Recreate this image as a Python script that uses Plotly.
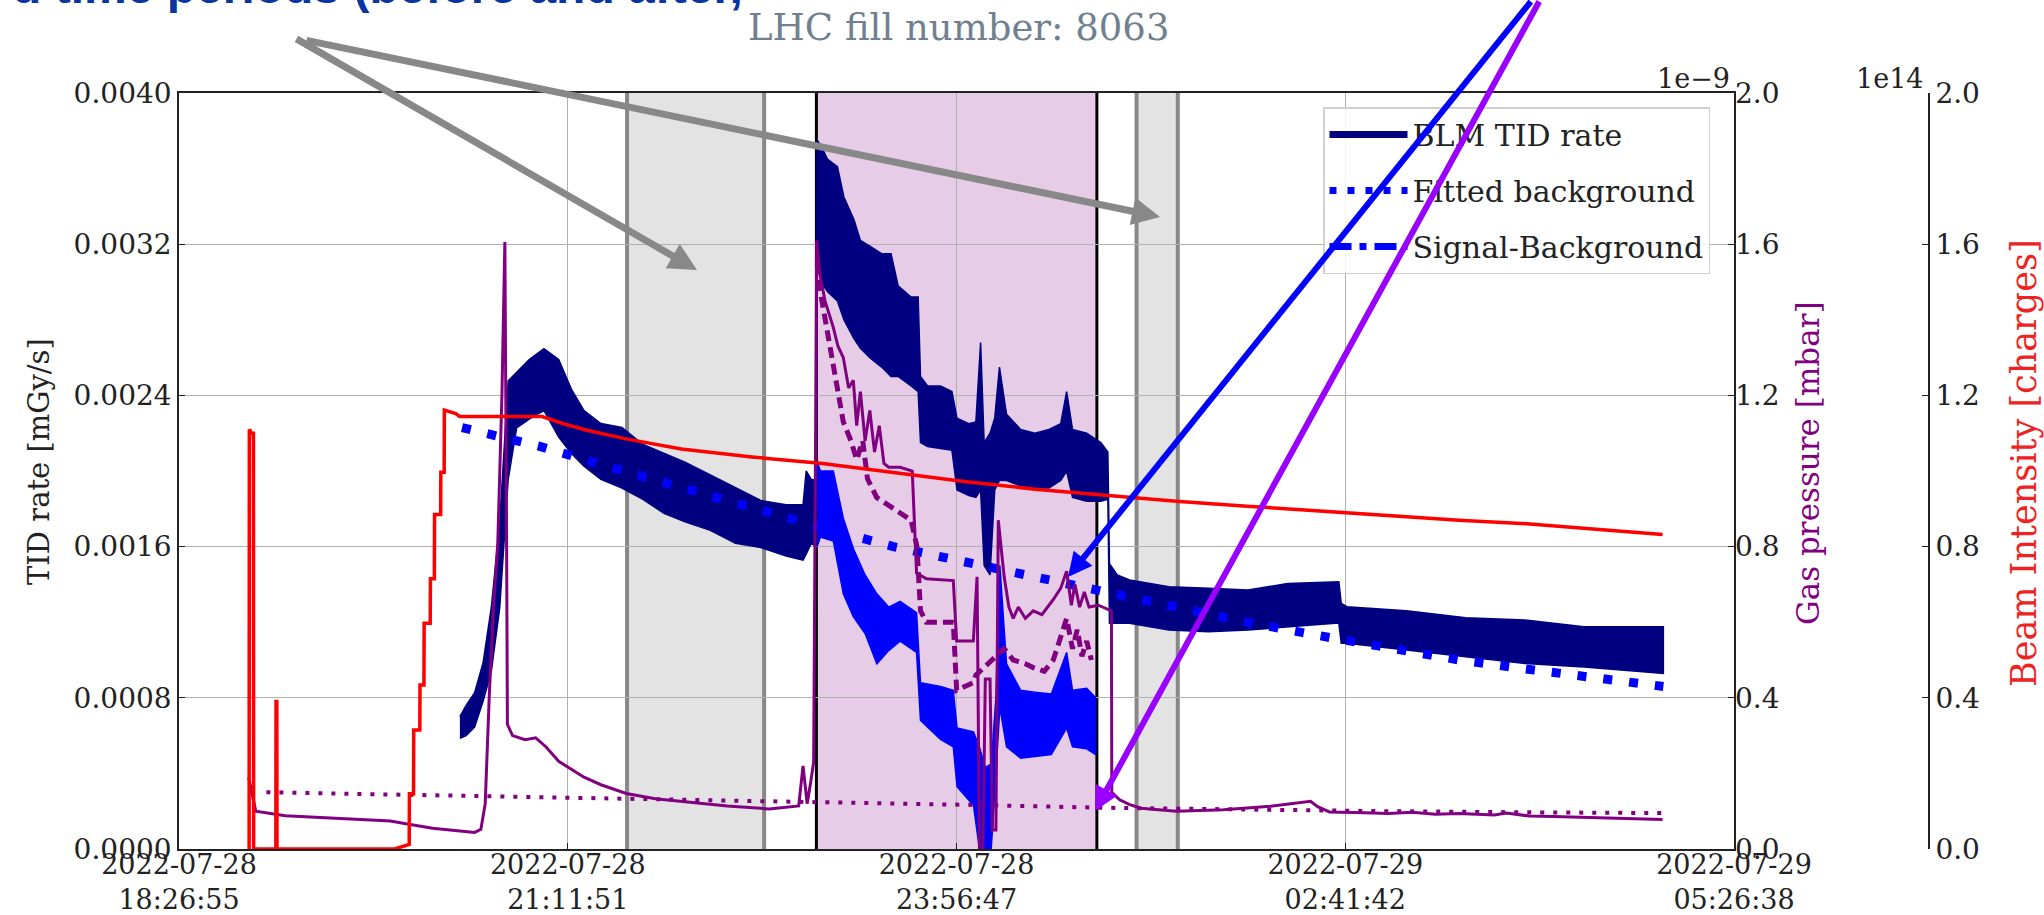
import plotly.graph_objects as go

SERIF = "DejaVu Serif"
NAVY = "#000080"
BLUE = "#0000ff"
PURPLE = "#800080"
RED = "#ff0000"


def ts(s):
    return ("2022-07-28 " if s >= "12" else "2022-07-29 ") + s


# ---------------- data ----------------
x_tick_times = ["18:26:55", "21:11:51", "23:56:47", "02:41:42", "05:26:38"]
x_tick_dates = ["2022-07-28", "2022-07-28", "2022-07-28", "2022-07-29", "2022-07-29"]
y_ticks = [0.0, 0.0008, 0.0016, 0.0024, 0.0032, 0.0040]
gas_ticks = [0.0, 0.4e-9, 0.8e-9, 1.2e-9, 1.6e-9, 2.0e-9]
beam_ticks = [0.0, 0.4e14, 0.8e14, 1.2e14, 1.6e14, 2.0e14]

gray_periods = [("21:37:00", "22:35:10"), ("01:13:10", "01:30:40")]
signal_period = ("22:57:20", "00:56:20")

# BLM TID rate [mGy/s] : noisy band (time, lower edge, upper edge)
blm_t = ["20:26:05", "20:28:45", "20:32:20", "20:35:55", "20:39:25", "20:43:00", "20:46:35",
         "20:50:10", "20:55:30", "21:01:45", "21:08:00", "21:13:25", "21:18:45", "21:25:55",
         "21:34:50", "21:43:45", "21:52:40", "22:01:35", "22:12:20", "22:23:00", "22:33:45",
         "22:44:30", "22:51:40", "22:53:00", "22:55:10", "22:57:10",
         "22:57:40", "22:59:20", "23:02:00", "23:06:15", "23:09:00", "23:13:15", "23:16:00",
         "23:20:00", "23:25:00", "23:29:00", "23:32:00", "23:37:30", "23:40:30", "23:41:30",
         "23:44:30", "23:50:00", "23:54:50", "23:57:00", "00:02:00", "00:05:00", "00:07:00",
         "00:08:30", "00:11:00", "00:13:00", "00:15:00", "00:18:00", "00:24:00", "00:30:00",
         "00:36:00", "00:41:00", "00:43:30", "00:46:00", "00:52:00", "00:58:00", "01:01:00",
         "01:01:40", "01:05:00", "01:10:10", "01:26:55", "01:43:40", "02:00:30", "02:17:15",
         "02:37:30", "02:39:00", "02:40:00", "02:42:25", "03:07:35", "03:32:50", "03:58:00",
         "04:23:00", "04:56:40"]
blm_lo = [0.000585, 0.000600, 0.000645, 0.000781, 0.000939, 0.001278, 0.001956,
          0.002228, 0.002274, 0.002320, 0.002180, 0.002093, 0.002025, 0.001956,
          0.001910, 0.001850, 0.001776, 0.001731, 0.001686, 0.001618, 0.001595,
          0.001550, 0.001528, 0.001560, 0.001618, 0.001600,
          0.003200, 0.003000, 0.002950, 0.002900, 0.002800, 0.002700, 0.002650,
          0.002600, 0.002550, 0.002500, 0.002500, 0.002450, 0.002420, 0.002150,
          0.002130, 0.002120, 0.002110, 0.001900, 0.001870, 0.001860, 0.001900,
          0.001500, 0.001450, 0.001900, 0.001950, 0.001950, 0.001920, 0.001910,
          0.001910, 0.001950, 0.002000, 0.001860, 0.001840, 0.001840, 0.001850,
          0.001194, 0.001194, 0.001194, 0.001159, 0.001150, 0.001159, 0.001176,
          0.001194, 0.001194, 0.001088, 0.001088, 0.001053, 0.001017, 0.000982,
          0.000963, 0.000929]
blm_hi = [0.000700, 0.000760, 0.000827, 0.000985, 0.001278, 0.001731, 0.002477,
          0.002522, 0.002590, 0.002647, 0.002590, 0.002432, 0.002320, 0.002251,
          0.002230, 0.002140, 0.002093, 0.002047, 0.001979, 0.001912, 0.001844,
          0.001821, 0.001821, 0.002000, 0.001956, 0.001950,
          0.003750, 0.003720, 0.003650, 0.003610, 0.003450, 0.003330, 0.003220,
          0.003190, 0.003150, 0.003150, 0.002980, 0.002920, 0.002920, 0.002500,
          0.002450, 0.002450, 0.002420, 0.002280, 0.002250, 0.002260, 0.002680,
          0.002150, 0.002200, 0.002280, 0.002550, 0.002300, 0.002220, 0.002200,
          0.002220, 0.002250, 0.002420, 0.002220, 0.002200, 0.002150, 0.002100,
          0.001510, 0.001450, 0.001423, 0.001388, 0.001379, 0.001370, 0.001405,
          0.001414, 0.001414, 0.001300, 0.001282, 0.001260, 0.001224, 0.001211,
          0.001176, 0.001176]

# Signal-Background [mGy/s] : noisy band inside the signal period
sb_t = ["22:57:40", "22:59:00", "23:04:30", "23:08:45", "23:13:00", "23:18:00", "23:23:00",
        "23:28:00", "23:32:50", "23:39:50", "23:41:30", "23:50:00", "23:55:25", "23:57:00",
        "00:04:00", "00:06:30", "00:09:00", "00:11:30", "00:13:30", "00:15:10", "00:18:00",
        "00:24:00", "00:30:00", "00:37:00", "00:43:30", "00:46:00", "00:52:00", "00:55:50"]
sb_lo = [0.00160, 0.00165, 0.00163, 0.00135, 0.00123, 0.00114, 0.00098,
         0.00105, 0.00110, 0.00104, 0.00068, 0.00058, 0.00054, 0.00033,
         0.00023, 0.00000, 0.00000, 0.00000, 0.00040, 0.00075, 0.00054,
         0.00048, 0.00049, 0.00050, 0.00064, 0.00054, 0.00053, 0.00050]
sb_hi = [0.00205, 0.00200, 0.00200, 0.00175, 0.00159, 0.00145, 0.00135,
         0.00128, 0.00131, 0.00125, 0.00088, 0.00086, 0.00084, 0.00064,
         0.00062, 0.00054, 0.00043, 0.00045, 0.00080, 0.00150, 0.00098,
         0.00084, 0.00083, 0.00082, 0.00104, 0.00084, 0.00085, 0.00080]

# Fitted background [mGy/s]
fb_t = ["20:27:00", "21:00:00", "21:30:00", "22:00:00", "22:30:00", "23:00:00", "23:30:00",
        "00:00:00", "00:30:00", "01:00:00", "01:30:00", "02:00:00", "02:30:00", "03:00:00",
        "03:30:00", "04:00:00", "04:30:00", "04:56:40"]
fb_v = [0.00223, 0.00213, 0.00202, 0.00191, 0.00180, 0.00170, 0.00160,
        0.00152, 0.00143, 0.00135, 0.00127, 0.00120, 0.00113, 0.00106,
        0.00100, 0.00095, 0.00090, 0.00086]

# Gas pressure [1e-9 mbar] : main gauge (solid)
gas_t = ["18:56:26", "18:59:30", "19:12:00", "19:29:50", "19:56:40", "20:03:45", "20:14:30",
         "20:32:20", "20:35:00", "20:36:50", "20:38:35", "20:40:20", "20:42:10", "20:43:55",
         "20:45:10", "20:45:50", "20:46:15", "20:48:25", "20:53:45", "20:58:15", "21:02:40",
         "21:08:00", "21:18:45", "21:25:55", "21:36:40", "21:49:00", "22:01:35", "22:19:30",
         "22:37:20", "22:49:50", "22:51:40", "22:53:25", "22:55:00", "22:56:10",
         "22:57:30", "22:58:50", "23:01:00", "23:04:30", "23:06:30", "23:08:45", "23:11:00",
         "23:13:00", "23:14:25", "23:16:00", "23:18:00", "23:20:00", "23:22:00", "23:24:00",
         "23:26:00", "23:28:00", "23:32:50", "23:38:00", "23:39:50", "23:44:00", "23:55:25",
         "23:56:50", "00:03:55", "00:05:30", "00:06:30", "00:08:00", "00:09:00", "00:11:00",
         "00:12:00", "00:13:30", "00:14:30", "00:17:00", "00:19:00", "00:20:50", "00:23:00",
         "00:26:00", "00:29:20", "00:33:00", "00:37:50", "00:41:00", "00:43:30", "00:45:30",
         "00:47:00", "00:49:00", "00:51:00", "00:53:00", "00:57:00", "01:01:00", "01:02:30",
         "01:02:40", "01:06:00", "01:10:00", "01:15:00", "01:30:00", "01:50:00", "02:10:00",
         "02:20:00", "02:27:00", "02:30:00", "02:35:00", "02:50:00", "03:00:00", "03:10:00",
         "03:20:00", "03:30:00", "03:45:00", "03:50:00", "04:00:00", "04:10:00", "04:30:00",
         "04:56:20"]
gas_v = [0.19, 0.10, 0.088, 0.082, 0.074, 0.066, 0.055,
         0.044, 0.052, 0.12, 0.41, 0.64, 0.81, 1.20,
         1.606, 0.90, 0.33, 0.30, 0.289, 0.294, 0.27,
         0.232, 0.19, 0.17, 0.147, 0.133, 0.125, 0.114,
         0.106, 0.114, 0.22, 0.12, 0.18, 0.23,
         1.61, 1.52, 1.45, 1.38, 1.33, 1.30, 1.22,
         1.24, 1.12, 1.21, 1.08, 1.16, 1.05, 1.12,
         1.02, 1.01, 1.01, 1.00, 0.73, 0.715, 0.71,
         0.55, 0.55, 0.72, 0.0, 0.0, 0.45, 0.45,
         0.05, 0.05, 0.87, 0.72, 0.64, 0.61, 0.64,
         0.61, 0.63, 0.62, 0.66, 0.69, 0.735, 0.645,
         0.70, 0.64, 0.68, 0.64, 0.645, 0.635, 0.63,
         0.15, 0.13, 0.118, 0.108, 0.100, 0.104, 0.113,
         0.120, 0.126, 0.112, 0.098, 0.096, 0.094, 0.097,
         0.092, 0.094, 0.090, 0.095, 0.087, 0.086, 0.082,
         0.078]

# Gas pressure [1e-9 mbar] : second gauge (dashed), signal period only
gasd_t = ["22:57:40", "22:58:50", "23:04:30", "23:08:45", "23:12:00", "23:14:25", "23:17:00",
          "23:19:00", "23:22:55", "23:30:00", "23:37:30", "23:40:00", "23:41:30", "23:44:00",
          "23:55:25", "23:56:50", "00:03:55", "00:05:00", "00:17:00", "00:20:50", "00:26:00",
          "00:29:20", "00:34:00", "00:37:50", "00:43:30", "00:46:00", "00:48:00", "00:50:00",
          "00:52:00", "00:54:00"]
gasd_v = [1.55, 1.48, 1.28, 1.13, 1.08, 1.03, 1.08,
          0.98, 0.93, 0.90, 0.87, 0.80, 0.63, 0.60,
          0.60, 0.42, 0.44, 0.46, 0.53, 0.50, 0.49,
          0.48, 0.47, 0.50, 0.61, 0.53, 0.58, 0.51,
          0.55, 0.50]

# Gas pressure background [1e-9 mbar] (dotted)
gasbg_t = ["19:04:00", "20:00:00", "21:00:00", "22:00:00", "23:00:00", "00:00:00",
           "01:00:00", "02:00:00", "03:00:00", "04:00:00", "04:56:20"]
gasbg_v = [0.150, 0.144, 0.138, 0.131, 0.124, 0.117, 0.109, 0.104, 0.100, 0.097, 0.095]

# Beam intensity [1e14 charges]
beam_t = ["18:56:40", "18:56:45", "18:57:40", "18:58:30", "18:58:35", "19:08:00", "19:08:05",
          "19:08:25", "19:08:30", "19:58:25", "20:04:35", "20:04:40", "20:06:25", "20:06:30",
          "20:09:05", "20:09:10", "20:10:50", "20:10:55", "20:13:30", "20:13:35", "20:15:15",
          "20:15:20", "20:17:55", "20:18:00", "20:19:25", "20:19:30", "20:24:20", "20:26:00",
          "21:01:00", "21:10:00", "21:20:00", "21:36:35", "22:00:00", "22:30:00", "23:00:00",
          "23:30:00", "00:00:00", "00:30:00", "01:00:00", "01:30:00", "02:00:00", "02:41:00",
          "03:30:00", "04:00:00", "04:30:00", "04:56:20"]
beam_v = [0.0, 1.11, 1.10, 1.10, 0.0, 0.0, 0.39,
          0.39, 0.0, 0.0, 0.012, 0.146, 0.146, 0.315,
          0.315, 0.434, 0.434, 0.597, 0.597, 0.715, 0.715,
          0.885, 0.885, 0.997, 0.997, 1.161, 1.152, 1.144,
          1.144, 1.125, 1.108, 1.085, 1.058, 1.037, 1.020,
          0.995, 0.972, 0.952, 0.935, 0.920, 0.907, 0.890,
          0.870, 0.860, 0.845, 0.832]

# ---------------- figure ----------------
W, H = 2044, 915
ML, MR, MT, MB = 179, 40, 93, 66
PW, PH = W - ML - MR, H - MT - MB


def px(xf):
    return (xf - ML) / PW


def py(yf):
    return (H - MB - yf) / PH


fig = go.Figure()


def band(t, lo, hi, color):
    xs = [ts(s) for s in t] + [ts(s) for s in t[::-1]]
    ys = list(hi) + list(lo[::-1])
    return go.Scatter(x=xs, y=ys, fill="toself", fillcolor=color, mode="lines",
                      line=dict(color=color, width=1.5), showlegend=False,
                      hoverinfo="skip", yaxis="y")


fig.add_trace(band(blm_t, blm_lo, blm_hi, NAVY))
fig.add_trace(band(sb_t, sb_lo, sb_hi, BLUE))
fig.add_trace(go.Scatter(x=[ts(s) for s in fb_t], y=fb_v, mode="lines", yaxis="y",
                         line=dict(color=BLUE, width=9, dash="9px,17px"),
                         showlegend=False, name="Fitted background"))

# legend entries
fig.add_trace(go.Scatter(x=[None], y=[None], mode="lines", name="BLM TID rate",
                         line=dict(color=NAVY, width=7), legendrank=1, legendgroup="a"))
fig.add_trace(go.Scatter(x=[None], y=[None], mode="lines", name="Fitted background",
                         line=dict(color=BLUE, width=7, dash="7px,11px"), legendrank=2,
                         legendgroup="b"))
fig.add_trace(go.Scatter(x=[None], y=[None], mode="lines", name="Signal-Background",
                         line=dict(color=BLUE, width=7, dash="22px,8px,7px,8px"),
                         legendrank=3, legendgroup="c"))

# gas pressure (right axis)
fig.add_trace(go.Scatter(x=[ts(s) for s in gasbg_t], y=[v * 1e-9 for v in gasbg_v], yaxis="y2",
                         mode="lines", line=dict(color=PURPLE, width=4, dash="4px,9px"),
                         showlegend=False))
fig.add_trace(go.Scatter(x=[ts(s) for s in gasd_t], y=[v * 1e-9 for v in gasd_v], yaxis="y2",
                         mode="lines", line=dict(color=PURPLE, width=5, dash="11px,6px"),
                         showlegend=False))
fig.add_trace(go.Scatter(x=[ts(s) for s in gas_t], y=[v * 1e-9 for v in gas_v], yaxis="y2",
                         mode="lines", line=dict(color=PURPLE, width=3), showlegend=False))

# beam intensity (third axis)
fig.add_trace(go.Scatter(x=[ts(s) for s in beam_t], y=[v * 1e14 for v in beam_v], yaxis="y3",
                         mode="lines", line=dict(color=RED, width=3.5), showlegend=False))

# shaded periods
shapes = []
for a, b in gray_periods:
    shapes.append(dict(type="rect", xref="x", yref="paper", x0=ts(a), x1=ts(b), y0=0, y1=1,
                       fillcolor="rgba(128,128,128,0.22)", line=dict(width=0), layer="below"))
    for e in (a, b):
        shapes.append(dict(type="line", xref="x", yref="paper", x0=ts(e), x1=ts(e), y0=0, y1=1,
                           line=dict(color="#888888", width=4), layer="between"))
shapes.append(dict(type="rect", xref="x", yref="paper", x0=ts(signal_period[0]),
                   x1=ts(signal_period[1]), y0=0, y1=1,
                   fillcolor="rgba(128,0,128,0.2)", line=dict(width=0), layer="below"))
for e in signal_period:
    shapes.append(dict(type="line", xref="x", yref="paper", x0=ts(e), x1=ts(e), y0=0, y1=1,
                       line=dict(color="black", width=3), layer="between"))

XD = (1734 - ML) / PW
ann = []


def label(text, x, y, size, color, angle=0, xa="center", ya="middle", family=SERIF):
    ann.append(dict(text=text, xref="paper", yref="paper", x=px(x), y=py(y), textangle=angle,
                    xanchor=xa, yanchor=ya, showarrow=False,
                    font=dict(family=family, size=size, color=color)))


label("LHC fill number: 8063", 958, 27, 37, "#708090")
label("<b>d time periods (before and after,</b>", 745, 15, 48, "#0a35a0", xa="right",
      ya="bottom", family="Liberation Sans")
label("TID rate [mGy/s]", 39, 462, 29, "#222", angle=-90)
label("Gas pressure [mbar]", 1808, 463, 31, PURPLE, angle=-90)
label("Beam Intensity [charges]", 2024, 463, 35, "#ee2222", angle=-90)
label("1e\u22129", 1732, 79, 27, "#222", xa="right")
label("1e14", 1926, 79, 27, "#222", xa="right")

# pointer arrows (tail pixel -> head pixel)
for (tx, ty, hx, hy, col, w) in [
        (295, 38, 697, 270, "#888888", 7),
        (305, 40, 1160, 217, "#888888", 7),
        (1532, -3, 1068, 577, BLUE, 6),
        (1540, -3, 1095, 811, "#9900ff", 6)]:
    ann.append(dict(text="", xref="paper", yref="paper", axref="pixel", ayref="pixel",
                    x=px(hx), y=py(hy), ax=tx - hx, ay=ty - hy, showarrow=True, arrowhead=2,
                    arrowsize=0.8, arrowwidth=w, arrowcolor=col, standoff=0))

tick_font = dict(family=SERIF, size=28, color="#222")

fig.update_layout(
    width=W, height=H,
    margin=dict(l=ML, r=MR, t=MT, b=MB, autoexpand=False),
    plot_bgcolor="white", paper_bgcolor="white",
    font=dict(family=SERIF, size=27, color="#222"),
    shapes=shapes, annotations=ann,
    legend=dict(x=px(1323), y=py(107), xanchor="left", yanchor="top",
                bgcolor="rgba(255,255,255,0.85)", bordercolor="#d0d0d0", borderwidth=1.5,
                font=dict(family=SERIF, size=30, color="#222"), itemwidth=78,
                tracegroupgap=14),
    xaxis=dict(type="date", domain=[0, XD], range=[ts("18:26:55"), ts("05:26:38")],
               tickvals=[d + " " + t for d, t in zip(x_tick_dates, x_tick_times)],
               ticktext=[d + "<br>" + t for d, t in zip(x_tick_dates, x_tick_times)],
               showgrid=True, gridcolor="#b0b0b0", gridwidth=1.3, mirror=True,
               showline=True, linecolor="#222", linewidth=1.6, zeroline=False,
               ticks="inside", ticklen=6, tickcolor="#222", automargin=False,
               ticklabelstandoff=-9,
               tickfont=dict(family=SERIF, size=27, color="#222")),
    yaxis=dict(range=[0, 0.004], tickvals=y_ticks, ticktext=["%.4f" % v for v in y_ticks],
               showgrid=True, gridcolor="#b0b0b0", gridwidth=1.3, mirror=True,
               showline=True, linecolor="#222", linewidth=1.6, zeroline=False,
               ticks="inside", ticklen=6, tickcolor="#222", tickfont=tick_font,
               automargin=False),
    yaxis2=dict(overlaying="y", side="right", anchor="x", range=[0, 2e-9],
                tickvals=gas_ticks, ticktext=["%.1f" % (v * 1e9) for v in gas_ticks],
                showgrid=False, zeroline=False, showline=False, ticks="inside", ticklen=6,
                tickcolor="#222", tickfont=tick_font, automargin=False),
    yaxis3=dict(overlaying="y", side="right", anchor="free", position=px(1929),
                range=[0, 2e14], tickvals=beam_ticks,
                ticktext=["%.1f" % (v / 1e14) for v in beam_ticks],
                showgrid=False, showline=True, linecolor="#222", linewidth=1.6, zeroline=False,
                ticks="inside", ticklen=6, tickcolor="#222", tickfont=tick_font,
                automargin=False),
)

fig.write_html("out.html", post_script="document.body.style.margin='0px';",
               config={"displayModeBar": False})
